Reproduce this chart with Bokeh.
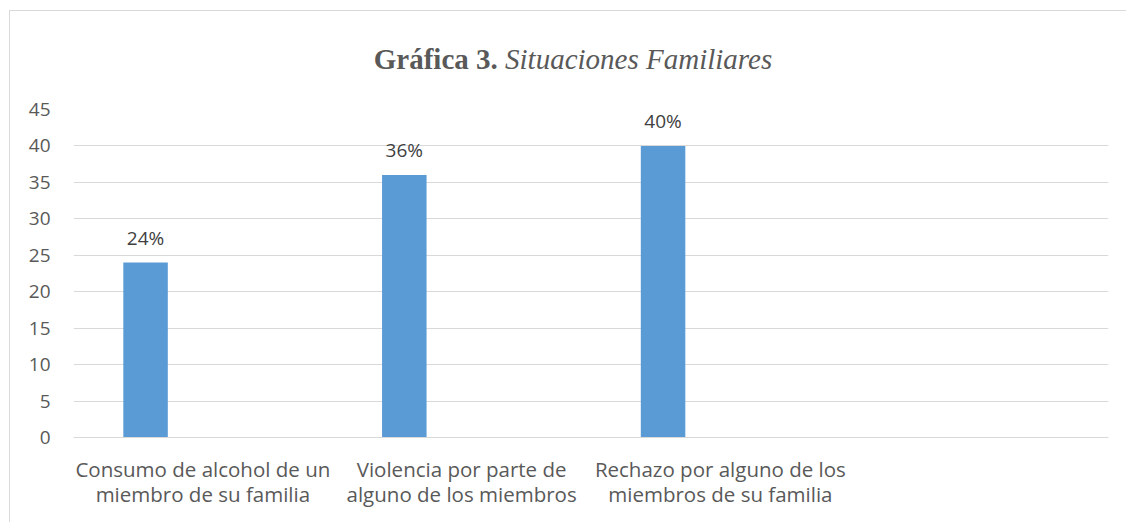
from bokeh.plotting import figure
from bokeh.models import ColumnDataSource, FactorRange, Range1d, LabelSet, SingleIntervalTicker, Div
from bokeh.layouts import column
from bokeh.core.properties import value
from bokeh.transform import dodge
from bokeh.embed import file_html
from bokeh.resources import INLINE

categories = [
    "Consumo de alcohol de un\nmiembro de su familia",
    "Violencia por parte de\nalguno de los miembros",
    "Rechazo por alguno de los\nmiembros de su familia",
    " ",
]
values = [24, 36, 40]
value_labels = ["24%", "36%", "40%"]
title_bold = "Gráfica 3."
title_italic = "Situaciones Familiares"

src = ColumnDataSource(dict(cat=categories[:3], val=values, lab=value_labels))

p = figure(
    width=1116, height=433,
    x_range=FactorRange(*categories, range_padding=0),
    y_range=Range1d(0, 45),
    output_backend="svg", toolbar_location=None,
    min_border_left=63, min_border_right=18, min_border_top=20, min_border_bottom=85,
)
p.x_range.factor_padding = 0
p.outline_line_color = None
p.background_fill_color = "white"
p.border_fill_color = "white"

bar_x = dodge("cat", -0.2215, range=p.x_range)
p.vbar(x=bar_x, top="val", width=0.172, source=src, fill_color="#5b9bd5", line_color=None)

labels = LabelSet(x=bar_x, y="val", text="lab", source=src, text_align="center",
                  text_baseline="middle", y_offset=25, text_font=value("Open Sans"),
                  text_font_size=value("19px"), text_color=value("#404040"))
p.add_layout(labels)

p.yaxis.ticker = SingleIntervalTicker(interval=5)
p.yaxis.axis_line_color = None
p.yaxis.major_tick_line_color = None
p.yaxis.minor_tick_line_color = None
p.yaxis.major_label_text_font = "Open Sans"
p.yaxis.major_label_text_font_size = "19px"
p.yaxis.major_label_text_color = "#595959"
p.yaxis.major_label_standoff = 17

p.xaxis.axis_line_color = "#d9d9d9"
p.xaxis.major_tick_line_color = None
p.xaxis.minor_tick_line_color = None
p.xaxis.major_label_text_font = "Open Sans"
p.xaxis.major_label_text_font_size = "20.5px"
p.xaxis.major_label_text_color = "#595959"
p.xaxis.major_label_text_line_height = 0.92
p.xaxis.major_label_standoff = 11
p.xaxis.major_label_orientation = "horizontal"

p.xgrid.grid_line_color = None
p.ygrid.grid_line_color = "#d9d9d9"
p.ygrid.grid_line_width = 1

title = Div(
    text=(f"<div style='font-family:\"Liberation Serif\"; font-size:29px; color:#595959;"
          f" text-align:center; width:1106px; padding-top:27px; padding-left:10px;"
          f" line-height:33px; white-space:nowrap;'>"
          f"<b>{title_bold}</b> <i>{title_italic}</i></div>"),
    width=1116, height=68,
)

layout = column(title, p, spacing=0,
                styles={"margin-left": "9px", "margin-top": "10px",
                        "border-left": "1px solid #d9d9d9", "border-top": "1px solid #d9d9d9",
                        "background-color": "white"})

open("out.html", "w").write(file_html(layout, INLINE))
